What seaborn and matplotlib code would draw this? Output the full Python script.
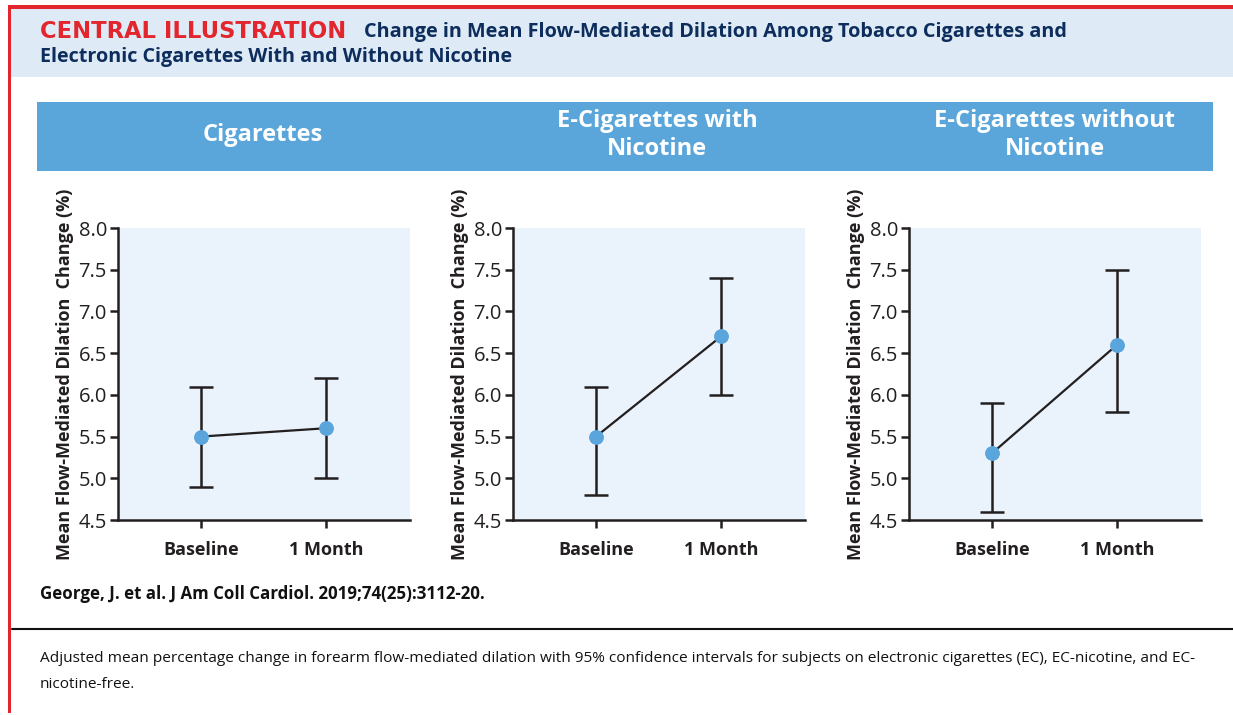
import matplotlib
matplotlib.use("Agg")
import matplotlib.pyplot as plt
import seaborn as sns
import pandas as pd
from matplotlib.patches import Rectangle
from matplotlib.lines import Line2D

# ---------------- data ----------------
panel_titles = ["Cigarettes", "E-Cigarettes with\nNicotine", "E-Cigarettes without\nNicotine"]
timepoints = ["Baseline", "1 Month"]
cig_mean = [5.5, 5.6]
cig_lo = [4.9, 5.0]
cig_hi = [6.1, 6.2]
ecn_mean = [5.5, 6.7]
ecn_lo = [4.8, 6.0]
ecn_hi = [6.1, 7.4]
ecf_mean = [5.3, 6.6]
ecf_lo = [4.6, 5.8]
ecf_hi = [5.9, 7.5]
y_ticks = [4.5, 5.0, 5.5, 6.0, 6.5, 7.0, 7.5, 8.0]

series = [(cig_mean, cig_lo, cig_hi), (ecn_mean, ecn_lo, ecn_hi), (ecf_mean, ecf_lo, ecf_hi)]

sns.set_theme(style="white")
plt.rcParams['font.family'] = ['Open Sans', 'DejaVu Sans']

W, H = 1233, 715
fig = plt.figure(figsize=(W / 100, H / 100), dpi=100)
fig.patch.set_facecolor("white")

def px_rect(x0, y0, x1, y1, color, z=0):
    fig.patches.append(Rectangle((x0 / W, 1 - y1 / H), (x1 - x0) / W, (y1 - y0) / H,
                                 transform=fig.transFigure, facecolor=color,
                                 edgecolor="none", zorder=z))

RED = "#e3262d"
NAVY = "#0d2d5c"
# header band
px_rect(11, 9, W, 77, "#deebf6")
# red border top + left
px_rect(8, 5, W, 9, RED, 2)
px_rect(8, 5, 11, 713, RED, 2)
# blue banner
px_rect(37, 102, 1213, 171, "#5aa5da")
# separator line
fig.lines.append(Line2D([12 / W, 1], [1 - 629 / H, 1 - 629 / H], transform=fig.transFigure,
                        color="#111111", linewidth=1.5))

# title
fig.text(40 / W, 1 - 32 / H, "CENTRAL ILLUSTRATION", color=RED, fontsize=16.3,
         fontweight="bold", va="center", ha="left", family=["DejaVu Sans"])
fig.text(364 / W, 1 - 32 / H, "Change in Mean Flow-Mediated Dilation Among Tobacco Cigarettes and",
         color=NAVY, fontsize=14.3, fontweight="bold", va="center", ha="left")
fig.text(40 / W, 1 - 57 / H, "Electronic Cigarettes With and Without Nicotine",
         color=NAVY, fontsize=14.2, fontweight="bold", va="center", ha="left")

panel_centers = [263, 657, 1055]
for cx, t in zip(panel_centers, panel_titles):
    fig.text(cx / W, 1 - 135 / H, t, color="white", fontsize=17, fontweight="bold",
             ha="center", va="center", linespacing=1.2)

lefts = [118, 513, 909]
for i, (left, (m, lo, hi)) in enumerate(zip(lefts, series)):
    ax = fig.add_axes([left / W, 1 - 520 / H, 292 / W, 292 / H])
    ax.set_facecolor("#eaf2fb")
    x = list(range(len(timepoints)))
    df = pd.DataFrame({"x": x, "y": m})
    yerr = [[mi - l for mi, l in zip(m, lo)], [h - mi for mi, h in zip(m, hi)]]
    ax.errorbar(x, m, yerr=yerr, fmt="none", ecolor="#231f20", elinewidth=1.8,
                capsize=8.5, capthick=1.8, zorder=2)
    sns.lineplot(data=df, x="x", y="y", ax=ax, color="#231f20", linewidth=1.6,
                 marker="o", markersize=9.5, markerfacecolor="#5aa5dc",
                 markeredgecolor="#5aa5dc", zorder=3)
    ax.plot(x, m, "o", color="#5aa5dc", markersize=9.5, zorder=4)
    ax.set_xlim(-0.664, 1.672)
    ax.set_ylim(4.5, 8.0)
    ax.set_yticks(y_ticks)
    ax.set_yticklabels([f"{v:.1f}" for v in y_ticks], fontsize=14.5, color="#231f20")
    ax.set_xticks(x)
    ax.set_xticklabels(timepoints, fontsize=13, fontweight="bold", color="#231f20")
    ax.set_xlabel("")
    ax.set_ylabel("Mean Flow-Mediated Dilation  Change (%)", fontsize=13, fontweight="bold",
                  color="#231f20", labelpad=3)
    for s in ["top", "right"]:
        ax.spines[s].set_visible(False)
    for s in ["left", "bottom"]:
        ax.spines[s].set_color("#231f20")
        ax.spines[s].set_linewidth(1.8)
    ax.tick_params(axis="both", direction="out", length=6, width=1.8, color="#231f20",
                   left=True, bottom=True)
    ax.tick_params(axis="x", pad=9)
    ax.tick_params(axis="y", pad=2)

fig.text(40 / W, 1 - 594 / H, "George, J. et al. J Am Coll Cardiol. 2019;74(25):3112-20.",
         fontsize=12.2, fontweight="bold", color="#111111", ha="left", va="center")
fig.text(40 / W, 1 - 658 / H,
         "Adjusted mean percentage change in forearm flow-mediated dilation with 95% confidence intervals for subjects on electronic cigarettes (EC), EC-nicotine, and EC-",
         fontsize=11.1, color="#111111", ha="left", va="center")
fig.text(40 / W, 1 - 684 / H, "nicotine-free.", fontsize=11.1, color="#111111", ha="left", va="center")

fig.savefig("out.png", dpi=100)
